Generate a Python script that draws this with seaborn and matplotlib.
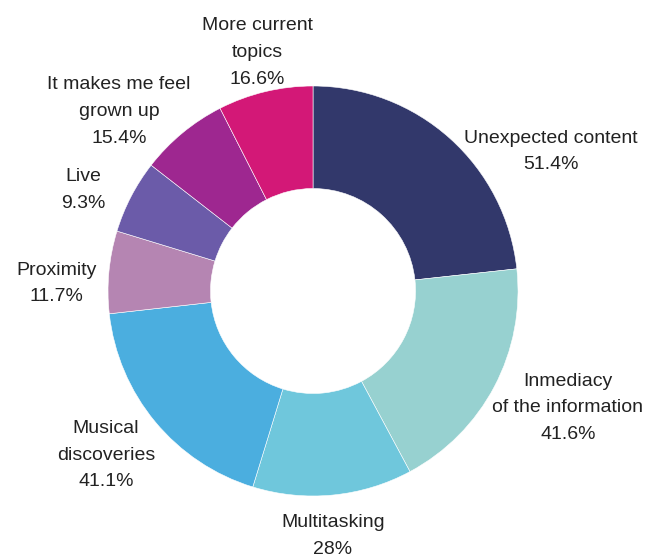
import matplotlib
matplotlib.use("Agg")
import matplotlib.pyplot as plt
import seaborn as sns

# Datos del gráfico
categorias = ["Unexpected content", "Inmediacy\nof the information", "Multitasking",
              "Musical\ndiscoveries", "Proximity", "Live",
              "It makes me feel\ngrown up", "More current\ntopics"]
# porcentajes que muestran las etiquetas
porcentajes = [51.4, 41.6, 28, 41.1, 11.7, 9.3, 15.4, 16.6]
# tamaño de cada sector (% del círculo)
sectores = [23.3, 18.9, 12.6, 18.5, 6.5, 5.8, 7.0, 7.5]
colores = ["#32386B", "#97D1D0", "#6FC7DC", "#4BAEDF",
           "#B585B2", "#6B5BA9", "#9E2790", "#D31877"]

# Posiciones de las etiquetas (unidades del eje, radio exterior = 1)
pos_etiquetas = [(1.16, 0.68), (1.243, -0.57), (0.097, -1.196), (-1.01, -0.8),
                 (-1.252, 0.037), (-1.121, 0.493), (-0.947, 0.876), (-0.272, 1.163)]

sns.set_theme(style="white")
plt.rcParams['font.family'] = ['Liberation Sans', 'DejaVu Sans']
paleta = sns.color_palette(colores)

fig = plt.figure(figsize=(6.46, 5.58), dpi=100)
ax = fig.add_axes([0.1672, 0.1111, 0.6347, 0.7348])

ax.pie(sectores, colors=paleta, startangle=90, counterclock=False, radius=1,
       wedgeprops=dict(width=0.5, edgecolor="white", linewidth=0.4))

for nombre, valor, (x, y) in zip(categorias, porcentajes, pos_etiquetas):
    texto = f"{valor:g}%"
    ax.text(x, y, f"{nombre}\n{texto}", ha="center", va="center",
            fontsize=14, color="#222222", linespacing=1.75, clip_on=False)

ax.set_xlim(-1, 1)
ax.set_ylim(-1, 1)
ax.set_aspect("equal")
ax.axis("off")

fig.savefig("out.png", dpi=100)
